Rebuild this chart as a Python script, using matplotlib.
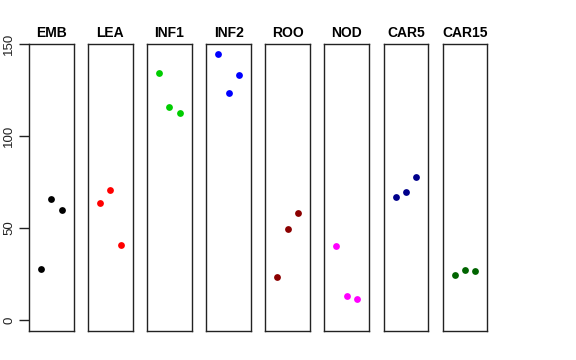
import matplotlib
matplotlib.use('Agg')
import matplotlib.pyplot as plt

plt.rcParams['font.family'] = ['Liberation Sans', 'DejaVu Sans']

# one panel per tissue, three replicates each
tissues = ['EMB', 'LEA', 'INF1', 'INF2', 'ROO', 'NOD', 'CAR5', 'CAR15']
colors = ['black', 'red', '#00CD00', 'blue', '#8B0000', 'magenta', '#00008B', '#006400']
reps = [1, 2, 3]
values = [
    [27.7, 65.6, 59.6],
    [63.8, 71.0, 40.6],
    [134.6, 116.1, 112.7],
    [144.7, 123.6, 133.3],
    [23.2, 49.6, 58.3],
    [40.2, 13.0, 11.2],
    [66.8, 69.7, 77.7],
    [24.6, 27.2, 26.5],
]
yticks = [0, 50, 100, 150]

fig = plt.figure(figsize=(5.76, 3.6), dpi=100)

left0 = 29 / 576
pw = 44.5 / 576
step = 59.1 / 576
bottom = 1 - 331 / 360
height = (331 - 44) / 360

for i, name in enumerate(tissues):
    ax = fig.add_axes([left0 + i * step, bottom, pw, height])
    ax.scatter(reps, values[i], s=24, color=colors[i], zorder=3, linewidths=0)
    ax.set_xlim(-0.16, 4.16)
    ax.set_ylim(-6, 150.2)
    ax.set_xticks([])
    for sp in ax.spines.values():
        sp.set_linewidth(1.0)
        sp.set_color('#222222')
    ax.set_title(name, fontsize=10, fontweight='bold', pad=5)
    if i == 0:
        ax.set_yticks(yticks)
        ax.set_yticklabels([str(t) for t in yticks], rotation=90, va='center', fontsize=9.5)
        ax.tick_params(axis='y', length=7, width=1, pad=3, colors='#222222', labelcolor='#222222')
    else:
        ax.set_yticks([])

fig.savefig('out.png', dpi=100)
